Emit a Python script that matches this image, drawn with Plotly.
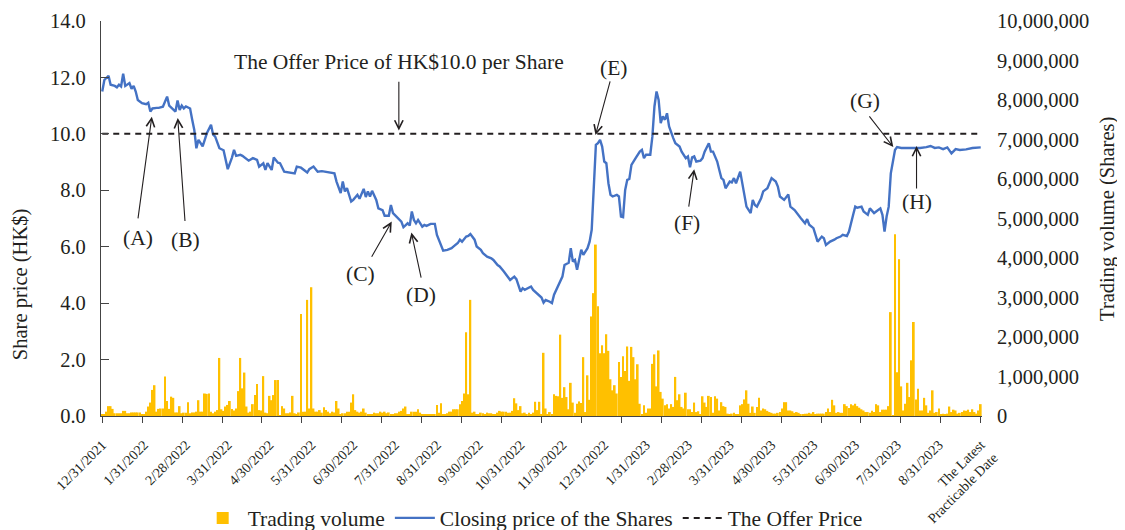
import plotly.graph_objects as go
import numpy as np

# ---------------- data ----------------
date_labels = ["12/31/2021", "1/31/2022", "2/28/2022", "3/31/2022", "4/30/2022",
               "5/31/2022", "6/30/2022", "7/31/2022", "8/31/2022", "9/30/2022",
               "10/31/2022", "11/30/2022", "12/31/2022", "1/31/2023", "2/28/2023",
               "3/31/2023", "4/30/2023", "5/31/2023", "6/30/2023", "7/31/2023",
               "8/31/2023", "The Latest<br>Practicable Date"]

# closing price (HK$) by trading-day index
price_day = [0, 1, 3, 4, 6, 7, 8, 9, 10, 11, 13, 14, 15, 16, 17, 19, 21, 22, 23, 24,
             26, 27, 29, 31, 32, 34, 35, 36, 37, 38, 39, 40, 42, 43, 44, 45, 46, 48, 49, 50,
             52, 53, 54, 56, 58, 59, 60, 62, 63, 64, 66, 67, 69, 70, 72, 74, 75, 77, 78, 79,
             81, 82, 84, 85, 87, 89, 92, 93, 95, 98, 99, 101, 103, 105, 108, 111, 112, 114, 115, 116,
             117, 119, 120, 122, 123, 125, 126, 127, 128, 129, 131, 132, 134, 135, 137, 138, 139, 141, 143, 144,
             146, 147, 148, 149, 150, 151, 153, 154, 155, 157, 159, 160, 162, 163, 165, 167, 168, 170, 171, 172,
             174, 175, 176, 178, 179, 181, 182, 184, 186, 187, 189, 190, 192, 194, 195, 197, 198, 200, 201, 202,
             205, 206, 208, 210, 211, 212, 214, 215, 216, 217, 219, 220, 221, 223, 224, 225, 226, 227, 229, 230,
             232, 233, 234, 235, 236, 237, 238, 239, 240, 241, 242, 243, 244, 246, 247, 248, 249, 250, 251, 252,
             253, 255, 256, 257, 258, 259, 260, 262, 263, 264, 265, 266, 267, 268, 269, 270, 271, 272, 273, 274,
             276, 277, 279, 280, 281, 282, 283, 284, 286, 287, 288, 290, 291, 292, 294, 295, 296, 297, 298, 300,
             301, 302, 303, 305, 306, 307, 308, 310, 311, 312, 313, 315, 316, 318, 319, 320, 322, 323, 324, 326,
             328, 329, 331, 333, 334, 336, 337, 338, 340, 341, 342, 344, 345, 346, 348, 350, 351, 353, 354, 356,
             357, 359, 360, 361, 363, 364, 366, 367, 369, 370, 372, 373, 374, 375, 376, 377, 378, 379, 380, 382,
             385, 388, 391, 394, 396, 398, 400, 402, 404, 406, 408, 410, 413, 416, 420]
price_close = [11.5, 11.91, 12.06, 11.74, 11.7, 11.65, 11.74, 11.68, 12.13, 11.7, 11.8, 11.6, 11.7, 11.5, 11.2, 11.09, 11.05, 11.1, 10.79, 10.9,
               10.92, 10.92, 10.96, 11.32, 11.0, 10.85, 10.79, 11.18, 10.85, 11.0, 10.9, 10.97, 10.9, 10.5, 10.14, 9.49, 9.79, 9.56, 9.84, 10.02,
               10.32, 9.97, 9.9, 9.49, 9.42, 9.02, 8.75, 9.16, 9.43, 9.22, 9.26, 9.22, 9.1, 9.05, 9.14, 9.08, 8.84, 8.96, 8.72, 8.96,
               8.72, 9.16, 8.98, 8.96, 8.66, 8.63, 8.6, 8.84, 8.8, 8.63, 8.75, 8.84, 8.66, 8.68, 8.63, 8.6, 8.31, 7.9, 8.31, 7.96,
               8.08, 7.6, 7.66, 7.84, 7.7, 8.05, 7.76, 7.96, 7.78, 7.98, 7.66, 7.36, 7.3, 7.1, 7.1, 7.48, 7.19, 7.05, 6.89, 6.69,
               6.83, 6.75, 7.25, 6.95, 6.83, 6.95, 6.71, 6.77, 6.74, 6.81, 6.81, 6.42, 6.06, 5.86, 5.89, 5.95, 6.01, 6.13, 6.25, 6.18,
               6.36, 6.38, 6.45, 6.25, 6.01, 5.89, 5.77, 5.65, 5.59, 5.53, 5.35, 5.3, 5.12, 4.94, 4.82, 4.94, 4.85, 4.41, 4.53, 4.47,
               4.59, 4.47, 4.35, 4.2, 4.02, 4.11, 4.05, 4.0, 4.3, 4.45, 4.76, 4.94, 5.35, 5.43, 5.95, 5.47, 5.53, 5.18, 5.89, 5.71,
               5.95, 6.18, 6.6, 7.9, 9.61, 9.67, 9.79, 9.55, 9.02, 8.96, 8.25, 7.84, 7.78, 7.84, 7.78, 7.07, 7.05, 8.01, 8.37, 8.4,
               8.9, 9.14, 9.26, 9.37, 9.43, 9.14, 9.26, 9.26, 9.9, 10.97, 11.5, 11.2, 10.38, 10.62, 10.5, 10.73, 10.26, 10.02, 9.85, 9.67,
               9.55, 9.37, 9.14, 9.2, 8.82, 9.17, 9.2, 9.02, 9.05, 9.14, 9.37, 9.67, 9.37, 9.37, 9.02, 8.72, 8.43, 8.37, 8.07, 8.31,
               8.28, 8.43, 8.25, 8.66, 8.19, 7.72, 7.42, 7.19, 7.66, 7.48, 7.42, 7.72, 7.96, 8.07, 8.25, 8.43, 8.31, 8.13, 7.78, 7.66,
               7.85, 7.42, 7.3, 7.13, 7.01, 6.83, 6.98, 6.78, 6.66, 6.42, 6.18, 6.36, 6.3, 6.06, 6.18, 6.25, 6.3, 6.36, 6.42, 6.38,
               6.54, 7.13, 7.42, 7.38, 7.42, 7.25, 7.13, 7.36, 7.19, 7.25, 7.36, 7.13, 6.54, 7.07, 7.42, 8.6, 9.08, 9.43, 9.53, 9.5,
               9.5, 9.5, 9.5, 9.53, 9.57, 9.5, 9.52, 9.46, 9.52, 9.31, 9.46, 9.43, 9.45, 9.5, 9.52]

# daily trading volume (thousand shares), trading days 0-210
volume_first_k = [40, 40, 110, 250, 250, 180, 70, 70, 70, 70,
                  130, 130, 70, 70, 90, 90, 90, 90, 90, 40,
                  40, 110, 240, 340, 660, 780, 110, 180, 190, 190,
                  1000, 380, 180, 490, 460, 90, 90, 250, 70, 85,
                  85, 350, 70, 90, 90, 110, 400, 110, 110, 570,
                  560, 570, 110, 70, 110, 150, 1470, 170, 130, 240,
                  280, 380, 180, 140, 190, 630, 1470, 700, 1100, 240,
                  85, 110, 300, 530, 810, 150, 140, 1010, 85, 70,
                  510, 400, 530, 910, 910, 25, 250, 190, 70, 70,
                  90, 510, 70, 50, 90, 2580, 110, 110, 2940, 190,
                  3260, 190, 110, 110, 150, 85, 220, 150, 110, 70,
                  110, 90, 380, 190, 50, 70, 70, 110, 110, 340,
                  550, 150, 110, 85, 110, 190, 85, 50, 50, 50,
                  85, 70, 70, 110, 85, 110, 70, 90, 50, 50,
                  70, 70, 110, 130, 190, 240, 40, 40, 110, 110,
                  110, 170, 85, 40, 40, 40, 40, 40, 40, 40,
                  280, 85, 320, 50, 50, 70, 110, 110, 170, 170,
                  170, 300, 380, 570, 2120, 550, 2940, 85, 110, 50,
                  50, 85, 70, 40, 85, 70, 70, 40, 40, 85,
                  130, 110, 110, 110, 85, 85, 130, 450, 320, 150,
                  250, 70, 85, 40, 85, 40, 85, 360, 150, 360, 40]

# daily trading volume (thousand shares), trading days 211-420
volume_second_k = [1600, 190, 30, 100, 30, 550, 510, 500, 2060, 460,
                   730, 480, 170, 840, 340, 80, 310, 370, 330, 1490,
                   100, 1030, 410, 2520, 3110, 4340, 2780, 1590, 1790, 1590,
                   2070, 1650, 930, 650, 780, 570, 1370, 990, 1510, 1140,
                   1760, 890, 1750, 1490, 930, 1310, 310, 30, 270, 80,
                   190, 190, 1320, 1560, 750, 1660, 610, 440, 270, 300,
                   190, 300, 230, 990, 400, 550, 230, 190, 590, 170,
                   170, 100, 340, 100, 120, 30, 500, 340, 230, 510,
                   480, 80, 500, 440, 140, 350, 250, 230, 60, 30,
                   60, 80, 40, 30, 270, 300, 420, 650, 310, 80,
                   240, 80, 230, 460, 140, 190, 170, 130, 100, 80,
                   60, 60, 80, 100, 190, 350, 350, 140, 140, 120,
                   80, 100, 80, 40, 30, 60, 60, 80, 60, 100,
                   30, 60, 60, 60, 60, 100, 190, 100, 410, 270, 80, 100,
                   80, 80, 300, 250, 200, 300, 270, 310, 250, 210,
                   170, 140, 100, 100, 80, 130, 100, 300, 270, 100,
                   160, 160, 160, 250, 2630, 20, 4600, 1110, 3970, 750,
                   140, 310, 840, 480, 1410, 2380, 420, 690, 140, 140,
                   460, 270, 80, 140, 650, 80, 100, 190, 30, 60,
                   40, 60, 240, 100, 160, 140, 60, 80, 100, 140,
                   130, 160, 100, 170, 100, 60, 140, 300]

offer_price = 10.0

# ---------------- build ----------------
volume_k = volume_first_k + volume_second_k
vol_days = np.arange(len(volume_k))
last_day = 420
FONT = "Liberation Serif"
TXT = "#231f20"

fig = go.Figure()
fig.add_trace(go.Bar(x=vol_days, y=np.array(volume_k) * 1000, name="Trading volume",
                     marker=dict(color="#FFC000", line=dict(width=0)),
                     yaxis="y", xaxis="x"))
fig.add_trace(go.Scatter(x=price_day, y=price_close, mode="lines",
                         name="Closing price of the Shares",
                         line=dict(color="#4472C4", width=2.4), yaxis="y2", xaxis="x"))
fig.add_trace(go.Scatter(x=[0, last_day], y=[offer_price, offer_price], mode="lines",
                         name="The Offer Price",
                         line=dict(color="#231f20", width=2, dash="6px,5px"),
                         yaxis="y2", xaxis="x"))

xr = [-0.6, last_day + 0.6]
tick_marks = np.linspace(0, last_day, 23)
label_pos = [20 * k for k in range(len(date_labels))]

annotations = []


def arrow(head, tail):
    annotations.append(dict(x=head[0], y=head[1], ax=tail[0], ay=tail[1],
                            xref="x", yref="y2", axref="x", ayref="y2",
                            text="", showarrow=True, arrowhead=5, arrowsize=1.5,
                            arrowwidth=1.1, arrowcolor=TXT, standoff=0, startstandoff=0))


def label(pos, text):
    annotations.append(dict(x=pos[0], y=pos[1], xref="x", yref="y2", text=text,
                            showarrow=False, font=dict(family=FONT, size=21.5, color=TXT)))


label((141.8, 12.55), "The Offer Price of HK$10.0 per Share")
arrow((141.8, 10.12), (141.8, 11.9))
label((17.2, 6.31), "(A)")
arrow((23.7, 10.61), (17.0, 6.95))
label((39.6, 6.24), "(B)")
arrow((36.1, 10.56), (39.6, 6.86))
label((123.6, 5.04), "(C)")
arrow((138.4, 6.89), (128.4, 5.59))
label((152.6, 4.29), "(D)")
arrow((147.8, 6.5), (152.6, 4.85))
label((244.5, 12.33), "(E)")
arrow((235.8, 9.96), (243.0, 11.91))
label((279.6, 6.83), "(F)")
arrow((283.0, 8.75), (280.3, 7.37))
label((364.7, 11.15), "(G)")
arrow((378.2, 9.53), (366.2, 10.67))
label((389.3, 7.6), "(H)")
arrow((389.3, 9.57), (389.3, 8.01))

# axis titles (placed as in the reference)
annotations.append(dict(x=-0.0905, y=0.332, xref="paper", yref="paper", text="Share price (HK$)",
                        textangle=-90, showarrow=False, xanchor="center", yanchor="middle",
                        font=dict(family=FONT, size=20.5, color=TXT)))
annotations.append(dict(x=1.143, y=0.499, xref="paper", yref="paper", text="Trading volume (Shares)",
                        textangle=-90, showarrow=False, xanchor="center", yanchor="middle",
                        font=dict(family=FONT, size=20.5, color=TXT)))

# the page body has an 8px default margin, so the figure is sized to fit the window
fig.update_layout(
    width=1117, height=522,
    margin=dict(l=93, r=143, t=13, b=114, autoexpand=False),
    paper_bgcolor="white", plot_bgcolor="white",
    font=dict(family=FONT, size=20, color=TXT),
    bargap=0.15,
    showlegend=True,
    legend=dict(orientation="h", x=0.49, xanchor="center", y=-0.258, yanchor="middle",
                font=dict(family=FONT, size=21.5, color=TXT), itemwidth=40,
                traceorder="normal"),
    xaxis=dict(range=xr, tickmode="array", tickvals=tick_marks, ticks="outside",
               ticklen=6, tickcolor="#444", showticklabels=False, automargin=False,
               showline=True, linecolor="#444", linewidth=1.3, showgrid=False,
               zeroline=False, anchor="y"),
    xaxis3=dict(range=xr, overlaying="x", anchor="y", side="bottom",
                tickmode="array", tickvals=label_pos, ticktext=date_labels,
                ticks="", tickangle=-45, ticklabelstandoff=17, automargin=False,
                tickfont=dict(family=FONT, size=14, color=TXT),
                showline=False, showgrid=False, zeroline=False),
    yaxis=dict(range=[0, 10_000_000], side="right", tickmode="linear", tick0=0,
               dtick=1_000_000, tickformat=",d", ticks="", showline=False,
               showgrid=False, zeroline=False, ticklabelstandoff=14, automargin=False,
               tickfont=dict(family=FONT, size=20.5, color=TXT)),
    yaxis2=dict(range=[0, 14], overlaying="y", side="left", tickmode="linear",
                tick0=0, dtick=2, tickformat=".1f", ticks="inside", ticklen=8,
                tickcolor="#444", showline=True, linecolor="#444", linewidth=1.3,
                showgrid=False, zeroline=False, ticklabelstandoff=10, automargin=False,
                tickfont=dict(family=FONT, size=20.5, color=TXT)),
    annotations=annotations,
)

# invisible helper trace so the label axis renders
fig.add_trace(go.Scatter(x=[0], y=[0], xaxis="x3", yaxis="y", mode="markers",
                         marker=dict(opacity=0), showlegend=False, hoverinfo="skip"))

fig.write_html("out.html")
